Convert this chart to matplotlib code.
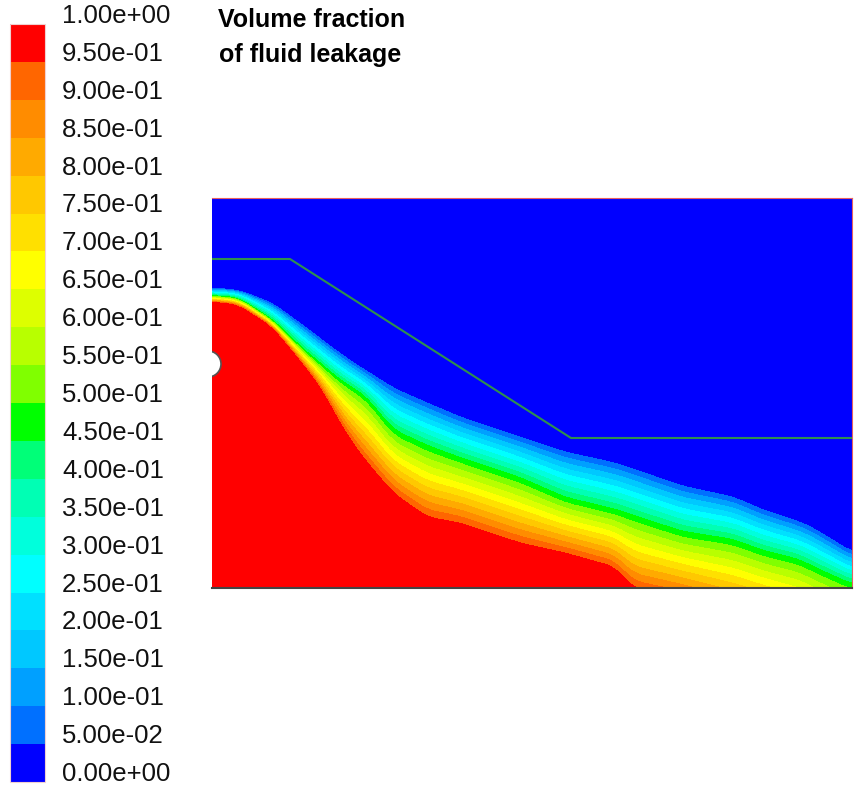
import numpy as np
import matplotlib
matplotlib.use("Agg")
import matplotlib.pyplot as plt
from matplotlib.patches import Circle

# contour levels and band colours (Fluent style, 0 -> 1)
levels = np.linspace(0.0, 1.0, 21)
band_colors = [
    "#0000ff", "#0070ff", "#00a0ff", "#00c8ff", "#00e0ff",
    "#00ffff", "#00ffdc", "#00ffb4", "#00ff78", "#00ff00",
    "#80ff00", "#b8ff00", "#ddff00", "#ffff00", "#ffe000",
    "#ffc800", "#ffaa00", "#ff8c00", "#ff6600", "#ff0000",
]
tick_labels = [f"{v:.2e}" for v in levels]

# domain size (mm) and interface positions
dom_w, dom_h = 640, 390
x_st = [0, 26, 60, 93, 110, 126, 143, 153, 181, 215, 248, 308, 353, 403,
        421, 470, 521, 551, 588, 601, 640]
# height of the 0.05 contour (top of the leakage plume)
y_low = [300, 298, 285, 261, 248, 236, 224, 218, 200, 185, 171, 151, 136,
         125, 119, 102, 91, 78, 66, 60, 36]
# height of the ~0.475 contour (green band)
y_mid = [292, 290, 268, 236, 222, 208, 197, 191, 156, 140, 128, 108, 88,
         76, 70, 54, 46, 35, 26, 19, 2]
# height of the 0.95 contour (edge of the red core, below 0 = under the floor)
y_high = [286, 283, 261, 221, 198, 168, 141, 128, 95, 71, 65, 45, 35, 21,
          0, -10, -25, -33, -45, -50, -70]

# wall profile (green line)
wall_x = [0, 78, 359, 640]
wall_y = [329, 329, 150, 150]


def smooth(v, n=21):
    pad = np.pad(v, n // 2, mode="edge")
    return np.convolve(pad, np.ones(n) / n, mode="valid")


# build the field column by column from the contour heights
xg = np.arange(0, dom_w + 1, 1.0)
yg = np.arange(0, dom_h + 1, 1.0)
yl = smooth(np.interp(xg, x_st, y_low))
ym = smooth(np.interp(xg, x_st, y_mid))
yh = smooth(np.interp(xg, x_st, y_high))
field = np.zeros((len(yg), len(xg)))
for i in range(len(xg)):
    field[:, i] = np.interp(yg, [yh[i] - 5, yh[i], ym[i], yl[i], yl[i] + 5],
                            [1.0, 0.95, 0.475, 0.05, 0.0])
field = np.clip(field, 1e-4, 1 - 1e-4)
X, Y = np.meshgrid(xg, yg)

W, H = 857, 788
fig = plt.figure(figsize=(W / 100, H / 100), dpi=100)
fig.patch.set_facecolor("white")

ax = fig.add_axes([212 / W, (H - 588) / H, 640 / W, 390 / H])
cs = ax.contourf(X, Y, field, levels=levels, colors=band_colors, antialiased=False)
ax.plot(wall_x, wall_y, color="#2f8f4f", linewidth=1.5, zorder=3)
ax.add_patch(Circle((-4, 224), 13, facecolor="white", edgecolor="#555555",
                    linewidth=1.2, zorder=4))
ax.set_xlim(0, dom_w)
ax.set_ylim(0, dom_h)
ax.set_xticks([])
ax.set_yticks([])
ax.spines["left"].set_visible(False)
ax.spines["top"].set_color("#e86060")
ax.spines["right"].set_color("#e86060")
ax.spines["bottom"].set_color("#444444")
ax.spines["bottom"].set_linewidth(1.5)

# colour bar
cb_top, cb_bot = 24, 782
cax = fig.add_axes([10 / W, (H - cb_bot) / H, 35 / W, (cb_bot - cb_top) / H])
cb = fig.colorbar(cs, cax=cax)
cb.set_ticks([])
cb.outline.set_edgecolor("#f0d0d0")
cb.outline.set_linewidth(0.8)

for v, lab in zip(levels, tick_labels):
    ypix = cb_bot - v * (cb_bot - cb_top) - 8
    fig.text(62 / W, 1 - ypix / H, lab, ha="left", va="center",
             fontsize=18.5, family="Liberation Sans", color="#111111")

fig.text(312 / W, 1 - 20 / H, "Volume fraction", ha="center", va="center",
         fontsize=18, fontweight="bold", family="Liberation Sans")
fig.text(310 / W, 1 - 55 / H, "of fluid leakage", ha="center", va="center",
         fontsize=18, fontweight="bold", family="Liberation Sans")

fig.savefig("out.png", dpi=100, facecolor="white")
